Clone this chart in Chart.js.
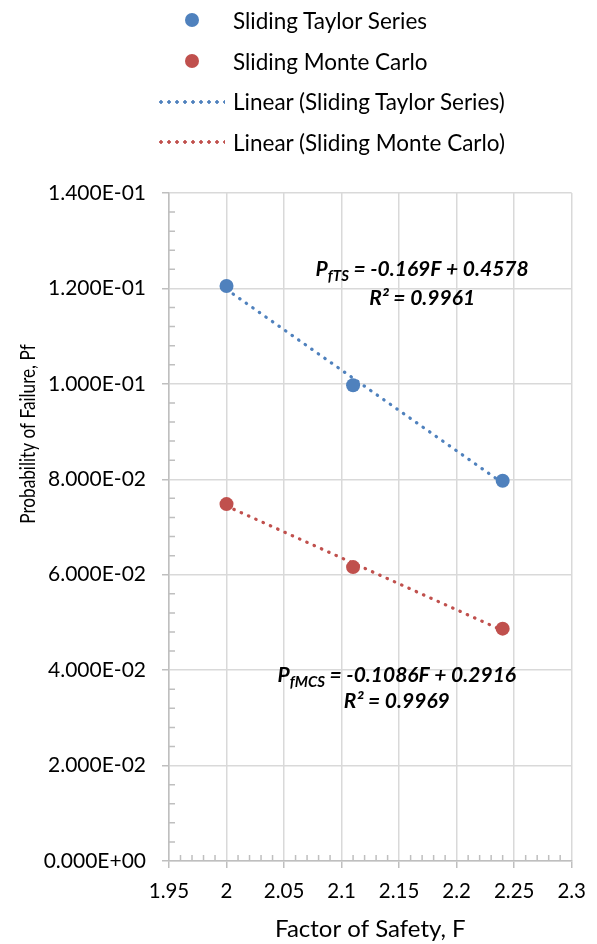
<!DOCTYPE html>
<html>
<head>
<meta charset="utf-8">
<script src="https://cdn.jsdelivr.net/npm/chart.js@4.4.1/dist/chart.umd.min.js"></script>
<style>
  body { margin: 0; background: #fff; font-family: Lato, "Liberation Sans", sans-serif; }
  #wrap { position: relative; width: 597px; height: 944px; }
  #legend { position: absolute; left: 157px; top: 0; font-size: 22.5px; color: #000; }
  .row { display: flex; align-items: center; height: 40.7px; }
  .mark { width: 70px; height: 20px; margin-right: 6px; position: relative; }
  .dot { position: absolute; left: 28px; top: 3px; width: 14px; height: 14px; border-radius: 50%; }
  .dash { position: absolute; left: 0; top: 8px; width: 68px; height: 4px; background-size: 8px 4px; background-repeat: repeat-x; }
</style>
</head>
<body>
<div id="wrap">
  <canvas id="pfChart"></canvas>
  <div id="legend"></div>
</div>
<script>
// data
const factorOfSafety = [2, 2.11, 2.24];
const taylorPf = [0.1205, 0.0997, 0.0797];
const monteCarloPf = [0.0748, 0.0616, 0.0487];
const trendF = [2, 2.24];
const taylorTrend = [0.1198, 0.0792];
const monteCarloTrend = [0.0744, 0.0483];

const seriesNames = ["Sliding Taylor Series", "Sliding Monte Carlo"];
const xTicks = [1.95, 2, 2.05, 2.1, 2.15, 2.2, 2.25, 2.3];
const yTicks = [0, 0.02, 0.04, 0.06, 0.08, 0.1, 0.12, 0.14];

const blue = "#4f81bd";
const red = "#c0504d";
const gridColor = "#d9d9d9";
const axisColor = "#bfbfbf";
const fontFamily = "Lato, 'Liberation Sans', sans-serif";

function pts(xs, ys) {
  return xs.map((x, i) => ({ x: x, y: ys[i] }));
}

function sci(v) {
  if (Math.abs(v) < 1e-12) return "0.000E+00";
  const parts = v.toExponential(3).split("e");
  const e = parseInt(parts[1], 10);
  return parts[0] + "E" + (e < 0 ? "-" : "+") + String(Math.abs(e)).padStart(2, "0");
}

// html legend, built from the same names and colours
const legendItems = [
  { text: seriesNames[0], color: blue, kind: "dot" },
  { text: seriesNames[1], color: red, kind: "dot" },
  { text: "Linear (" + seriesNames[0] + ")", color: blue, kind: "dash" },
  { text: "Linear (" + seriesNames[1] + ")", color: red, kind: "dash" }
];
const legendEl = document.getElementById("legend");
legendItems.forEach(item => {
  const row = document.createElement("div");
  row.className = "row";
  const mark = document.createElement("div");
  mark.className = "mark";
  const sym = document.createElement("div");
  sym.className = item.kind;
  if (item.kind === "dot") {
    sym.style.background = item.color;
  } else {
    sym.style.backgroundImage = "radial-gradient(circle, " + item.color + " 1.5px, transparent 2px)";
  }
  mark.appendChild(sym);
  const label = document.createElement("span");
  label.textContent = item.text;
  row.appendChild(mark);
  row.appendChild(label);
  legendEl.appendChild(row);
});

// trendline equations, anchored in data space
const equations = [
  { x: 2.17, y: 0.1226, sub: "fTS", rest: " = -0.169F + 0.4578", r2: "R\u00b2 = 0.9961", gap: 29 },
  { x: 2.148, y: 0.0375, sub: "fMCS", rest: " = -0.1086F + 0.2916", r2: "R\u00b2 = 0.9969", gap: 26 }
];

const yTitle = { text: "Probability of Failure, Pf", x: 28, y: 434, squeeze: 0.78 };

const minorTicks = {
  id: "minorTicks",
  beforeDatasetsDraw(chart) {
    const { ctx, chartArea, scales } = chart;
    ctx.save();
    ctx.strokeStyle = axisColor;
    ctx.lineWidth = 1.5;
    ctx.beginPath();
    for (let i = 0; i <= 35; i++) {
      if (i % 5 === 0) continue;
      const y = scales.y.getPixelForValue(i * 0.004);
      ctx.moveTo(chartArea.left, y);
      ctx.lineTo(chartArea.left + 6, y);
      const x = scales.x.getPixelForValue(1.95 + i * 0.01);
      ctx.moveTo(x, chartArea.bottom);
      ctx.lineTo(x, chartArea.bottom - 6);
    }
    ctx.stroke();
    ctx.restore();
  }
};

// y title is condensed in the original, so it is drawn by hand
const condensedYTitle = {
  id: "condensedYTitle",
  afterDraw(chart) {
    const ctx = chart.ctx;
    ctx.save();
    ctx.translate(yTitle.x, yTitle.y);
    ctx.rotate(-Math.PI / 2);
    ctx.scale(yTitle.squeeze, 1);
    ctx.font = "22px " + fontFamily;
    ctx.fillStyle = "#000";
    ctx.textAlign = "center";
    ctx.textBaseline = "middle";
    ctx.fillText(yTitle.text, 0, 0);
    ctx.restore();
  }
};

const equationLabels = {
  id: "equationLabels",
  afterDatasetsDraw(chart) {
    const { ctx, scales } = chart;
    ctx.save();
    ctx.fillStyle = "#000";
    ctx.textBaseline = "alphabetic";
    const big = "italic bold 21px " + fontFamily;
    const small = "italic bold 15px " + fontFamily;
    equations.forEach(eq => {
      const cx = scales.x.getPixelForValue(eq.x);
      const by = scales.y.getPixelForValue(eq.y);
      ctx.font = big;
      const wP = ctx.measureText("P").width;
      const wRest = ctx.measureText(eq.rest).width;
      ctx.font = small;
      const wSub = ctx.measureText(eq.sub).width;
      let x = cx - (wP + wSub + wRest) / 2;
      ctx.textAlign = "left";
      ctx.font = big;
      ctx.fillText("P", x, by);
      x += wP;
      ctx.font = small;
      ctx.fillText(eq.sub, x, by + 5);
      x += wSub;
      ctx.font = big;
      ctx.fillText(eq.rest, x, by);
      ctx.textAlign = "center";
      ctx.fillText(eq.r2, cx, by + eq.gap);
    });
    ctx.restore();
  }
};

const ctx = document.getElementById("pfChart").getContext("2d");
new Chart(ctx, {
  type: "scatter",
  data: {
    datasets: [
      {
        label: seriesNames[0],
        data: pts(factorOfSafety, taylorPf),
        backgroundColor: blue,
        borderColor: blue,
        pointRadius: 7,
        pointHoverRadius: 7,
        pointBorderWidth: 0
      },
      {
        label: seriesNames[1],
        data: pts(factorOfSafety, monteCarloPf),
        backgroundColor: red,
        borderColor: red,
        pointRadius: 7,
        pointHoverRadius: 7,
        pointBorderWidth: 0
      },
      {
        label: "Linear (" + seriesNames[0] + ")",
        data: pts(trendF, taylorTrend),
        showLine: true,
        borderColor: blue,
        borderWidth: 3.2,
        borderDash: [0.5, 7.5],
        borderCapStyle: "round",
        pointRadius: 0,
        fill: false
      },
      {
        label: "Linear (" + seriesNames[1] + ")",
        data: pts(trendF, monteCarloTrend),
        showLine: true,
        borderColor: red,
        borderWidth: 3.2,
        borderDash: [0.5, 7.5],
        borderCapStyle: "round",
        pointRadius: 0,
        fill: false
      }
    ]
  },
  options: {
    responsive: true,
    maintainAspectRatio: false,
    animation: false,
    layout: { padding: { top: 193, right: 25, left: 0, bottom: 0 } },
    plugins: {
      legend: { display: false },
      tooltip: { enabled: false }
    },
    scales: {
      x: {
        type: "linear",
        min: 1.95,
        max: 2.3,
        afterBuildTicks: s => { s.ticks = xTicks.map(v => ({ value: v })); },
        afterFit: s => { s.height = 83; },
        grid: { color: gridColor, lineWidth: 1.5, tickLength: 7, tickColor: axisColor },
        border: { color: axisColor, width: 1.5 },
        ticks: {
          color: "#000",
          padding: 11,
          maxRotation: 0,
          font: { family: fontFamily, size: 20.5 },
          callback: v => String(Number(v.toFixed(2)))
        },
        title: {
          display: true,
          text: "Factor of Safety, F",
          color: "#000",
          font: { family: fontFamily, size: 24 },
          padding: { top: 4, bottom: 0 }
        }
      },
      y: {
        type: "linear",
        min: 0,
        max: 0.14,
        afterBuildTicks: s => { s.ticks = yTicks.map(v => ({ value: v })); },
        afterFit: s => { s.width = 169; },
        grid: { color: gridColor, lineWidth: 1.5, tickLength: 7, tickColor: axisColor },
        border: { color: axisColor, width: 1.5 },
        ticks: {
          color: "#000",
          padding: 16,
          font: { family: fontFamily, size: 21 },
          callback: v => sci(v)
        },
        title: { display: false }
      }
    }
  },
  plugins: [minorTicks, equationLabels, condensedYTitle]
});
</script>
</body>
</html>
